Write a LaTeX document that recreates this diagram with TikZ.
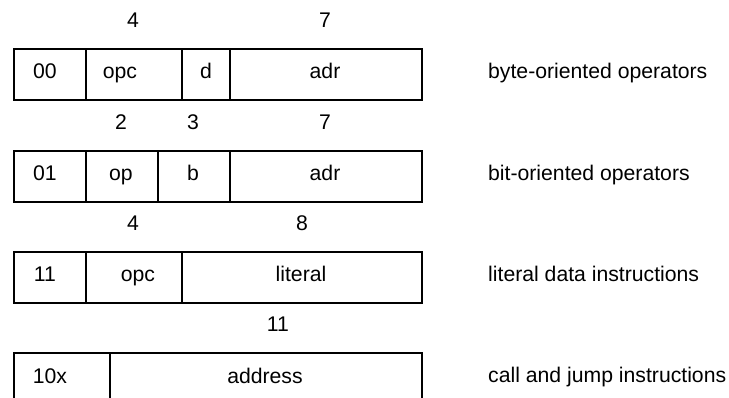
\documentclass[tikz,border=0pt]{standalone}
\usepackage{fontspec}
\setmainfont{Liberation Sans}
\begin{document}
\begin{tikzpicture}[x=1pt,y=-1pt,
  cell/.style={draw=black,line width=2pt,rectangle,inner sep=0pt,anchor=north west,minimum height=51pt},
  txt/.style={anchor=base,inner sep=0pt,font=\fontsize{21.2}{25}\selectfont},
  desc/.style={anchor=base west,inner sep=0pt,font=\fontsize{21.2}{25}\selectfont}]
\useasboundingbox (0,0) rectangle (729,398);
\clip (0,0) rectangle (729,398);
% row 1
\node[cell,minimum width=72pt] (a1) at (13,48) {};
\node[cell,minimum width=96pt] (a2) at (85,48) {};
\node[cell,minimum width=48pt] (a3) at (181,48) {};
\node[cell,minimum width=192pt] (a4) at (229,48) {};
\node[txt] (ta1) at (45,79) {00};
\node[txt] (ta2) at (120,79) {opc};
\node[txt] (ta3) at (206,79) {d};
\node[txt] (ta4) at (325,79) {adr};
\node[txt] (na2) at (133,27.5) {4};
\node[txt] (na4) at (325,27.5) {7};
\node[desc] (da) at (488,78.5) {byte-oriented operators};
% row 2
\node[cell,minimum width=72pt] (b1) at (13,150) {};
\node[cell,minimum width=72pt] (b2) at (85,150) {};
\node[cell,minimum width=72pt] (b3) at (157,150) {};
\node[cell,minimum width=192pt] (b4) at (229,150) {};
\node[txt] (tb1) at (45,181) {01};
\node[txt] (tb2) at (121,181) {op};
\node[txt] (tb3) at (193,181) {b};
\node[txt] (tb4) at (325,181) {adr};
\node[txt] (nb2) at (121,129.5) {2};
\node[txt] (nb3) at (193,129.5) {3};
\node[txt] (nb4) at (325,129.5) {7};
\node[desc] (db) at (488,180.5) {bit-oriented operators};
% row 3
\node[cell,minimum width=72pt] (c1) at (13,251) {};
\node[cell,minimum width=96pt] (c2) at (85,251) {};
\node[cell,minimum width=240pt] (c3) at (181,251) {};
\node[txt] (tc1) at (45,282) {11};
\node[txt] (tc2) at (138,282) {opc};
\node[txt] (tc3) at (301,282) {literal};
\node[txt] (nc2) at (133,230.5) {4};
\node[txt] (nc3) at (302,230.5) {8};
\node[desc] (dc) at (488,281.5) {literal data instructions};
% row 4
\node[cell,minimum width=96pt] (d1) at (13,352) {};
\node[cell,minimum width=312pt] (d2) at (109,352) {};
\node[txt] (td1) at (50,383) {10x};
\node[txt] (td2) at (265,383) {address};
\node[txt] (nd2) at (278,331.5) {11};
\node[desc] (dd) at (488,382.5) {call and jump instructions};
\end{tikzpicture}
\end{document}
